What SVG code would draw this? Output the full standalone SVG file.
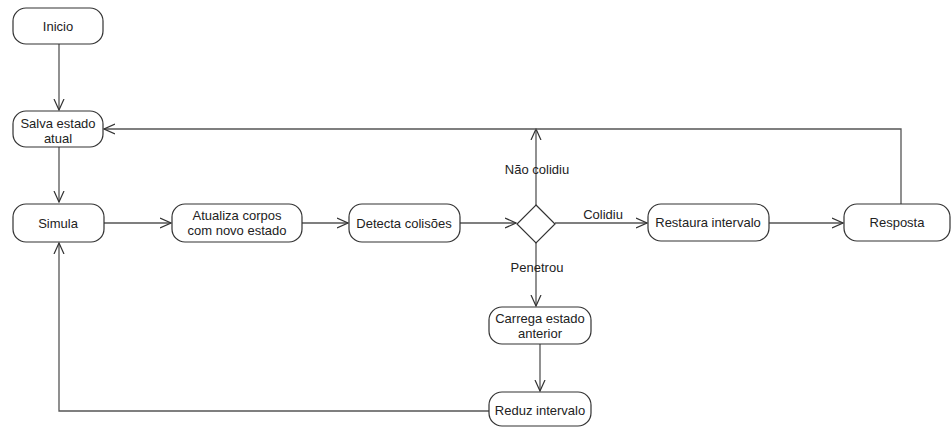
<svg xmlns="http://www.w3.org/2000/svg" width="952" height="427" viewBox="0 0 952 427">
<defs>
<marker id="arr" viewBox="0 0 12 12" refX="11" refY="6" markerWidth="12" markerHeight="12" markerUnits="userSpaceOnUse" orient="auto">
<path d="M0,1 L11,6 L0,11" fill="none" stroke="#333" stroke-width="1.2"/>
</marker>
<style>
.n{fill:#fff;stroke:#333;stroke-width:1.2}
.t{font-family:"Liberation Sans",Arial,sans-serif;font-size:13px;fill:#222;text-anchor:middle}
.c{fill:none;stroke:#555;stroke-width:1.3;marker-end:url(#arr)}
</style>
</defs>
<rect width="952" height="427" fill="#fff"/>
<g id="connectors">
<path class="c" d="M59,44 L59,110"/>
<path class="c" d="M59,147 L59,202"/>
<path class="c" d="M104,223 L171,223"/>
<path class="c" d="M302,223 L348,223"/>
<path class="c" d="M460,223 L516,223"/>
<path class="c" d="M555,223 L647,223"/>
<path class="c" d="M769,223 L843,223"/>
<path class="c" d="M536,205 L536,129"/>
<path class="c" d="M901,204 L901,129 L104,129"/>
<path class="c" d="M536,243 L536,306"/>
<path class="c" d="M540,344 L540,391"/>
<path class="c" d="M489,411 L59,411 L59,243"/>
</g>
<g id="labels">
<text class="t" x="537" y="174">Não colidiu</text>
<text class="t" x="603" y="219">Colidiu</text>
<text class="t" x="537" y="272">Penetrou</text>
</g>
<g id="inicio"><rect class="n" x="13" y="8" width="90" height="36" rx="13"/><text class="t" x="58" y="31">Inicio</text></g>
<g id="salva"><rect class="n" x="13" y="111" width="90" height="36" rx="13"/><text class="t" x="58" y="128">Salva estado</text><text class="t" x="58" y="143">atual</text></g>
<g id="simula"><rect class="n" x="13" y="204" width="91" height="38" rx="13"/><text class="t" x="58" y="228">Simula</text></g>
<g id="atualiza"><rect class="n" x="172" y="204" width="130" height="38" rx="13"/><text class="t" x="237" y="220">Atualiza corpos</text><text class="t" x="237" y="235">com novo estado</text></g>
<g id="detecta"><rect class="n" x="349" y="204" width="111" height="38" rx="13"/><text class="t" x="404" y="228">Detecta colisões</text></g>
<g id="decisao"><path class="n" d="M536,205 L555,224 L536,243 L517,224 Z"/></g>
<g id="restaura"><rect class="n" x="648" y="204" width="121" height="37" rx="13"/><text class="t" x="708" y="227">Restaura intervalo</text></g>
<g id="resposta"><rect class="n" x="844" y="204" width="106" height="37" rx="13"/><text class="t" x="897" y="227">Resposta</text></g>
<g id="carrega"><rect class="n" x="489" y="307" width="102" height="37" rx="13"/><text class="t" x="540" y="323">Carrega estado</text><text class="t" x="540" y="338">anterior</text></g>
<g id="reduz"><rect class="n" x="489" y="392" width="102" height="34" rx="13"/><text class="t" x="540" y="415">Reduz intervalo</text></g>
</svg>
